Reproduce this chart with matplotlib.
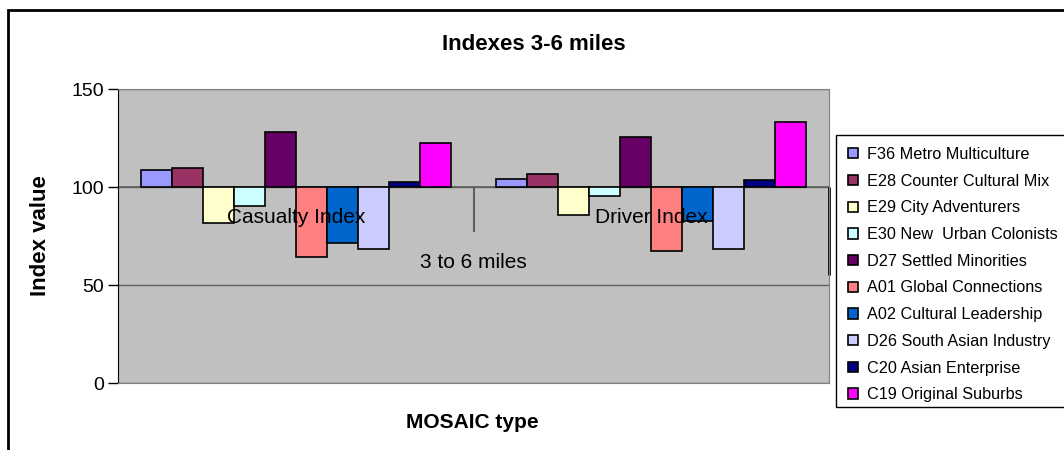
import matplotlib.pyplot as plt
import numpy as np
from matplotlib.patches import Rectangle

plt.rcParams['font.family'] = ['Liberation Sans', 'DejaVu Sans']

##### data #####
categories = ["Casualty Index", "Driver Index"]
group_label = "3 to 6 miles"
mosaic_types = ["F36 Metro Multiculture", "E28 Counter Cultural Mix", "E29 City Adventurers",
                "E30 New  Urban Colonists", "D27 Settled Minorities", "A01 Global Connections",
                "A02 Cultural Leadership", "D26 South Asian Industry", "C20 Asian Enterprise",
                "C19 Original Suburbs"]
casualty = [108.7, 109.5, 81.8, 90.5, 127.9, 64.4, 71.3, 68.2, 102.7, 122.4]
driver = [104.1, 106.5, 85.7, 95.2, 125.5, 67.5, 82.8, 68.4, 103.4, 133.3]
colors = ["#9999FF", "#993366", "#FFFFCC", "#CCFFFF", "#660066",
          "#FF8080", "#0066CC", "#CCCCFF", "#000080", "#FF00FF"]
base = 100
yticks = [0, 50, 100, 150]

W, H = 1064, 450
fig = plt.figure(figsize=(W / 100, H / 100), dpi=100)

# chart frame (runs off the right and bottom of the picture)
fig.patches.append(Rectangle((8 / W, -0.1), 1.2, 1 - 10 / H + 0.1, transform=fig.transFigure,
                             fill=False, edgecolor="black", lw=2))

ax = fig.add_axes([118 / W, (H - 383) / H, 711 / W, 294 / H])
ax.set_facecolor("#C0C0C0")

values = np.array([casualty, driver])
n = len(mosaic_types)
width = 1 / (n + 1.45)
x = np.arange(len(categories))

handles = []
for i in range(n):
    h = ax.bar(x + (i - (n - 1) / 2) * width, values[:, i] - base, width, bottom=base,
               color=colors[i], edgecolor="black", lw=1.2, label=mosaic_types[i], zorder=3)
    handles.append(h)

ax.set_xlim(-0.5, len(categories) - 0.5)
ax.set_ylim(0, 150)
ax.set_yticks(yticks)
ax.tick_params(axis="y", direction="out", length=7, width=1, labelsize=14, pad=3)
ax.set_xticks([])
ax.grid(axis="y", color="#606060", lw=1, zorder=1)
for s in ["top", "right", "bottom"]:
    ax.spines[s].set_color("#808080")
ax.spines["left"].set_color("black")

# category axis crossing at 100
ax.axhline(base, color="#606060", lw=1.2, zorder=2)
ax.vlines(0.5, base - 23, base, color="#606060", lw=1.5, zorder=2)
ax.vlines(1.5, base - 45, base, color="black", lw=2, zorder=2, clip_on=False)
for xi, c in zip(x, categories):
    ax.annotate(c, (xi, base), xytext=(0, -22), textcoords="offset points",
                ha="center", va="center", fontsize=15, zorder=4)
ax.annotate(group_label, (x.mean(), base), xytext=(0, -54), textcoords="offset points",
            ha="center", va="center", fontsize=15, zorder=4)

fig.text(534 / W, 1 - 44 / H, "Indexes 3-6 miles", ha="center", va="center",
         fontsize=16, fontweight="bold")
fig.text(40 / W, 1 - 236 / H, "Index value", ha="center", va="center", rotation=90,
         fontsize=16, fontweight="bold")
fig.text(472 / W, 1 - 422 / H, "MOSAIC type", ha="center", va="center",
         fontsize=15, fontweight="bold")

# legend box
fig.patches.append(Rectangle((836 / W, (H - 407) / H), 0.3, (407 - 135) / H,
                             transform=fig.transFigure, facecolor="white",
                             edgecolor="black", lw=1))
leg = fig.legend(handles=handles, loc="upper left", bbox_to_anchor=(848 / W, 1 - 147 / H),
                 frameon=False, fontsize=11.7, handlelength=0.6, handleheight=0.6,
                 handletextpad=0.55, labelspacing=0.72, borderaxespad=0, borderpad=0)

fig.savefig("out.png", dpi=100)
